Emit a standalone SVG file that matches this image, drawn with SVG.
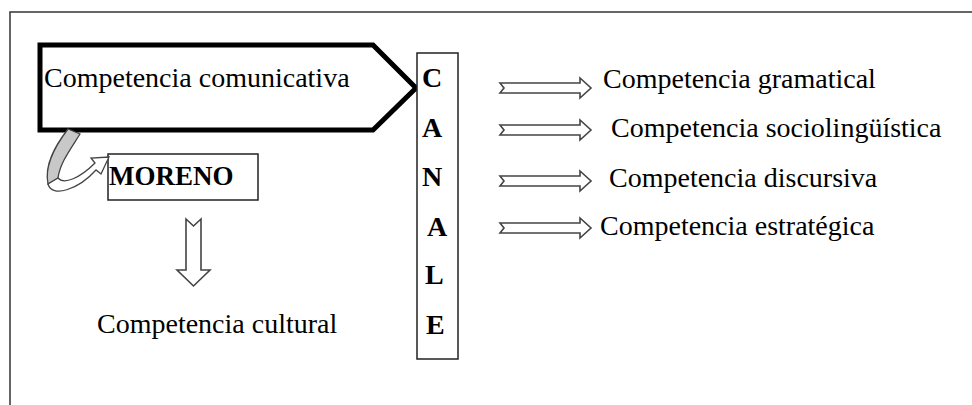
<svg xmlns="http://www.w3.org/2000/svg" width="972" height="405" viewBox="0 0 972 405">
  <style>
    text { font-family: "Liberation Serif", "Times New Roman", serif; fill: #000; }
    .lbl { font-size: 28px; }
    .bold { font-size: 28px; font-weight: bold; }
    .box { fill: #fff; stroke: #222; stroke-width: 1.5; }
    .hollow { fill: #fff; stroke: #444; stroke-width: 1.6; stroke-linejoin: miter; }
  </style>
  <defs>
    <!-- notched block arrow pointing right, centred on y=0, starting at x=0 -->
    <path id="blockArrow" d="M0,-5 L80,-5 L80,-10 L91,0 L80,10 L80,5 L0,5 L4,0 Z"/>
  </defs>

  <rect width="972" height="405" fill="#fff"/>

  <!-- open frame -->
  <path d="M10,405 L10,12 L972,12" fill="none" stroke="#333" stroke-width="1.5"/>

  <g id="comunicativa">
    <polygon points="40,45 373,45 416,88 373,130 40,130" fill="#fff" stroke="#000" stroke-width="5" stroke-linejoin="miter"/>
    <text class="lbl" x="44" y="87">Competencia comunicativa</text>
  </g>

  <g id="canale">
    <rect class="box" x="417" y="53" width="41" height="306"/>
    <text class="bold" x="422" y="87">C</text>
    <text class="bold" x="422" y="137">A</text>
    <text class="bold" x="422" y="186">N</text>
    <text class="bold" x="427" y="236">A</text>
    <text class="bold" x="425" y="284">L</text>
    <text class="bold" x="426" y="334">E</text>
  </g>

  <g id="moreno">
    <rect class="box" x="108" y="154" width="150" height="46"/>
    <text class="bold" x="109" y="185" style="font-size:27px">MORENO</text>
  </g>

  <g id="gramatical">
    <text class="lbl" x="603" y="88">Competencia gramatical</text>
  </g>
  <g id="sociolinguistica">
    <text class="lbl" x="611" y="137">Competencia sociolingüística</text>
  </g>
  <g id="discursiva">
    <text class="lbl" x="609" y="187">Competencia discursiva</text>
  </g>
  <g id="estrategica">
    <text class="lbl" x="600" y="235">Competencia estratégica</text>
  </g>
  <g id="cultural">
    <text class="lbl" x="97" y="333">Competencia cultural</text>
  </g>

  <g id="connectors">
    <!-- curved arrow from the pentagon down into MORENO -->
    <path d="M68,129 L80,134 C70,150 60,163 58,178 L48,184 C44,165 55,146 68,129 Z" fill="#c8c8c8" stroke="#444" stroke-width="1.3"/>
    <path d="M48,184 C52,198 78,190 96,170 L101,174 L109,157 L91,158 L95,163 C80,178 64,185 58,178 Z" fill="#fff" stroke="#444" stroke-width="1.3" stroke-linejoin="miter"/>

    <!-- MORENO down to cultural -->
    <path class="hollow" d="M186,219 L193.5,226 L201,219 L201,270 L210,270 L193.5,286 L177,270 L186,270 Z"/>

    <!-- CANALE to each competence -->
    <use href="#blockArrow" class="hollow" x="500" y="88"/>
    <use href="#blockArrow" class="hollow" x="500" y="130"/>
    <use href="#blockArrow" class="hollow" x="500" y="181"/>
    <use href="#blockArrow" class="hollow" x="500" y="228"/>
  </g>
</svg>
